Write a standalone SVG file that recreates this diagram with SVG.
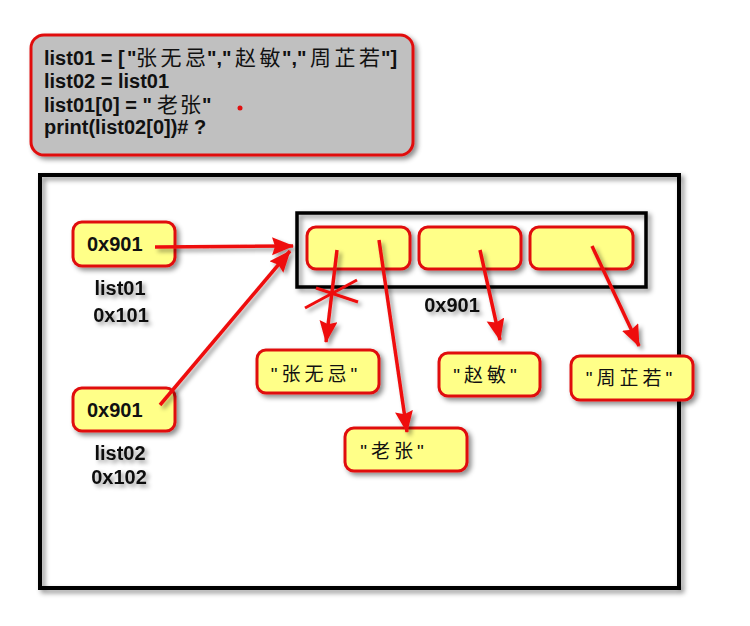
<svg xmlns="http://www.w3.org/2000/svg" width="750" height="626" viewBox="0 0 750 626">
<defs>
<filter id="sh" x="-20%" y="-20%" width="150%" height="150%">
<feDropShadow dx="3" dy="3" stdDeviation="2.5" flood-color="#000" flood-opacity="0.45"/>
</filter>
<filter id="shu" filterUnits="userSpaceOnUse" x="0" y="0" width="750" height="626">
<feDropShadow dx="3" dy="3" stdDeviation="2" flood-color="#000" flood-opacity="0.4"/>
</filter>
<marker id="ah" markerUnits="userSpaceOnUse" markerWidth="26" markerHeight="22" refX="21" refY="9" orient="auto">
<path d="M0,0 L22,9 L0,18 L3,9 Z" fill="#ee1111"/>
</marker>
<style>
.code{fill:#c0c0c0;stroke:#e01010;stroke-width:3;filter:url(#sh)}
.node{fill:#ffff88;stroke:#e01010;stroke-width:3;filter:url(#sh)}
.frame{fill:none;stroke:#000;stroke-width:4;filter:url(#sh)}
.t{font-family:"Liberation Sans","Noto Sans CJK SC",sans-serif;font-weight:bold;font-size:20px;fill:#111}
.c{font-family:"Noto Sans CJK SC",sans-serif;font-weight:normal;font-size:21px}
.lbl{font-family:"Liberation Sans","Noto Sans CJK SC",sans-serif;font-weight:bold;font-size:20px;fill:#111;filter:url(#shu)}
.cj{font-family:"Liberation Sans","Noto Sans CJK SC",sans-serif;font-size:19px;fill:#111;letter-spacing:4px}
.arr{stroke:#ee1111;stroke-width:3.5;fill:none;marker-end:url(#ah)}
.x{stroke:#ee1111;stroke-width:3;fill:none}
</style>
</defs>
<rect width="750" height="626" fill="#fff"/>

<g id="code">
<rect class="code" x="31" y="35" width="382" height="120" rx="13"/>
<text class="t" y="65"><tspan x="44">list01 = [</tspan><tspan x="127">"</tspan><tspan class="c" x="136 160.5 185">张无忌</tspan><tspan x="207">","</tspan><tspan class="c" x="235 259.5">赵敏</tspan><tspan x="282">","</tspan><tspan class="c" x="310 334.5 359">周芷若</tspan><tspan x="381">"]</tspan></text>
<text class="t" x="44" y="88">list02 = list01</text>
<text class="t" y="112"><tspan x="44">list01[0] = "</tspan><tspan class="c" x="157 180">老张</tspan><tspan x="202">"</tspan></text>
<text class="t" x="44" y="134">print(list02[0])# ?</text>
<circle cx="240" cy="108" r="2.5" fill="#e01010"/>
</g>

<g id="memory">
<rect class="frame" x="40" y="175" width="639" height="413"/>
</g>

<g id="list">
<rect class="frame" x="297" y="213" width="349" height="74" style="stroke-width:3.5"/>
<rect class="node" x="307" y="227" width="103" height="42" rx="9"/>
<rect class="node" x="419" y="227" width="102" height="42" rx="9"/>
<rect class="node" x="530" y="227" width="103" height="42" rx="9"/>
<text class="lbl" x="452" y="312" text-anchor="middle">0x901</text>
</g>

<g id="list01">
<rect class="node" x="73" y="222" width="102" height="44" rx="9"/>
<text class="t" x="87" y="251">0x901</text>
<text class="lbl" x="120" y="295" text-anchor="middle">list01</text>
<text class="lbl" x="121" y="322" text-anchor="middle">0x101</text>
</g>

<g id="list02">
<rect class="node" x="73" y="388" width="102" height="43" rx="9"/>
<text class="t" x="87" y="417">0x901</text>
<text class="lbl" x="120" y="460" text-anchor="middle">list02</text>
<text class="lbl" x="119" y="484" text-anchor="middle">0x102</text>
</g>

<g id="s1">
<rect class="node" x="257" y="350" width="122" height="43" rx="9"/>
<text class="cj" x="316" y="381" text-anchor="middle">"张无忌"</text>
</g>
<g id="s4">
<rect class="node" x="345" y="428" width="122" height="43" rx="9"/>
<text class="cj" x="394" y="458" text-anchor="middle">"老张"</text>
</g>
<g id="s2">
<rect class="node" x="439" y="353" width="101" height="43" rx="9"/>
<text class="cj" x="487" y="382" text-anchor="middle">"赵敏"</text>
</g>
<g id="s3">
<rect class="node" x="571" y="356" width="122" height="44" rx="9"/>
<text class="cj" x="631" y="385" text-anchor="middle">"周芷若"</text>
</g>

<g id="connectors" filter="url(#shu)">
<line class="arr" x1="155" y1="247" x2="293" y2="246"/>
<line class="arr" x1="160" y1="405" x2="290" y2="251"/>
<line class="arr" x1="337" y1="250" x2="326" y2="342"/>
<line class="arr" x1="379" y1="240" x2="407" y2="432"/>
<line class="arr" x1="480" y1="250" x2="500" y2="340"/>
<line class="arr" x1="592" y1="246" x2="639" y2="346"/>
<line class="x" x1="305" y1="308" x2="357" y2="280"/>
<line class="x" x1="316" y1="288" x2="358" y2="302"/>
</g>
</svg>
